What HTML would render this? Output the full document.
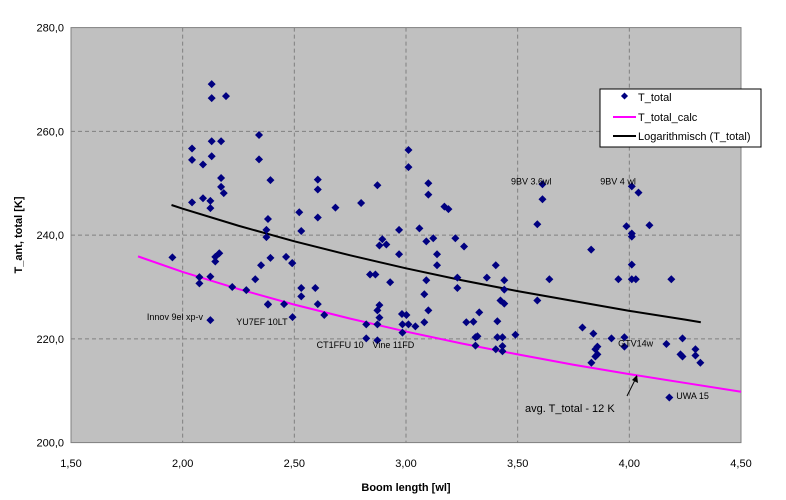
<!DOCTYPE html>
<html><head><meta charset="utf-8"><style>
body{margin:0;background:#fff;}
svg text{font-family:"Liberation Sans",Arial,sans-serif;}
</style></head><body>
<svg id="chart" width="786" height="495" xmlns="http://www.w3.org/2000/svg">
<rect x="0" y="0" width="786" height="495" fill="#fff"/>
<rect x="71" y="27.6" width="670" height="415" fill="#c0c0c0" stroke="#808080" stroke-width="1"/>
<g id="grid"></g><g id="axes"></g><g id="series"></g><g id="labels"></g>
<text transform="translate(22,235) rotate(-90)" text-anchor="middle" font-size="11" font-weight="bold">T_ant, total [K]</text>
<text x="406" y="491" text-anchor="middle" font-size="11" font-weight="bold">Boom length [wl]</text>
<g>
<rect x="600" y="89" width="161" height="58" fill="#fff" stroke="#000"/>
<rect x="622" y="93.5" width="5" height="5" transform="rotate(45 624.5 96)" fill="#000080"/>
<text x="638" y="101" font-size="11">T_total</text>
<line x1="613" y1="117" x2="636" y2="117" stroke="#ff00ff" stroke-width="2"/>
<text x="638" y="121" font-size="11">T_total_calc</text>
<line x1="613" y1="136" x2="636" y2="136" stroke="#000" stroke-width="2"/>
<text x="638" y="140" font-size="11">Logarithmisch (T_total)</text>
</g>
</svg>
<script>
const xTicks=["1,50","2,00","2,50","3,00","3,50","4,00","4,50"];
const xTickVals=[1.5,2,2.5,3,3.5,4,4.5];
const yTicks=["200,0","220,0","240,0","260,0","280,0"];
const yTickVals=[200,220,240,260,280];
const ptX=[2.130,2.130,2.194,2.042,2.042,2.091,2.130,2.172,2.130,2.342,2.342,2.393,2.172,2.172,2.184,2.042,2.091,2.124,2.124,2.382,2.375,2.375,2.522,2.531,1.954,2.164,2.146,2.146,2.393,2.463,2.490,2.351,2.075,2.075,2.124,2.325,2.222,2.285,2.382,2.382,2.454,2.531,2.531,2.492,2.124,
2.605,2.605,2.605,2.491,2.594,2.605,2.634,2.684,2.799,2.872,2.969,2.894,2.881,2.912,2.969,2.839,2.863,2.929,2.881,2.872,2.881,2.872,2.822,2.822,2.872,2.982,3.002,2.984,3.011,3.042,2.984,3.011,3.011,3.100,3.100,3.060,3.091,3.122,3.139,3.139,3.091,3.082,3.100,3.082,3.172,3.190,3.221,3.260,3.230,3.230,3.328,3.270,3.302,3.311,3.320,3.311,3.402,3.362,3.440,3.440,3.423,3.440,3.409,3.409,3.432,3.490,3.402,3.432,3.432,
3.611,3.611,3.588,3.642,3.588,4.011,4.041,3.987,4.090,4.011,4.011,3.829,4.011,3.951,4.011,4.029,4.188,3.790,3.839,3.920,3.978,3.978,3.857,3.848,3.857,3.848,3.830,4.166,4.238,4.229,4.238,4.296,4.296,4.318,4.179];
const ptY=[269.1,266.4,266.8,256.7,254.5,253.6,258.1,258.1,255.2,259.3,254.6,250.6,251.0,249.3,248.1,246.3,247.1,246.6,245.2,243.1,241.0,239.6,244.4,240.8,235.7,236.5,235.8,234.9,235.6,235.8,234.6,234.2,231.9,230.7,232.0,231.5,230.0,229.4,226.7,226.6,226.7,229.8,228.2,224.2,223.6,
250.7,248.8,243.4,234.6,229.8,226.7,224.6,245.3,246.2,249.6,241.0,239.2,238.0,238.2,236.3,232.4,232.4,230.9,226.5,225.5,224.1,222.8,222.8,220.1,219.7,224.8,224.6,222.8,222.8,222.4,221.2,256.4,253.1,250.0,247.8,241.3,238.8,239.4,236.3,234.2,231.3,228.6,225.5,223.2,245.5,245.0,239.4,237.8,231.8,229.8,225.1,223.2,223.3,220.3,220.5,218.7,234.2,231.8,231.3,229.5,227.4,226.8,223.4,220.3,220.3,220.8,218.0,218.6,217.6,
249.8,246.9,242.1,231.5,227.4,249.4,248.2,241.7,241.9,240.3,239.7,237.2,234.3,231.5,231.5,231.5,231.5,222.2,221.0,220.1,220.3,218.5,218.5,218.0,217.0,216.6,215.4,219.0,220.1,217.0,216.6,218.0,216.8,215.4,208.7];
const calcX=[1.8,2.0,2.25,2.5,2.75,3.0,3.25,3.5,3.75,4.0,4.25,4.5];
const calcY=[235.9,232.9,229.6,226.6,223.9,221.4,219.1,217.0,215.0,213.2,211.5,209.8];
const logX=[1.95,2.0,2.25,2.5,2.75,3.0,3.25,3.5,3.75,4.0,4.25,4.32];
const logY=[245.8,245.1,241.8,238.8,236.1,233.6,231.3,229.2,227.3,225.4,223.7,223.2];
const annText=["Innov 9el xp-v","YU7EF 10LT","CT1FFU 10","Vine 11FD","9BV 3.6wl","9BV 4 wl","GTV14w","UWA 15"];
const annX=[1.84,2.24,2.60,2.85,3.47,3.87,3.95,4.21];
const annY=[223.6,222.7,218.2,218.2,249.8,249.8,218.5,208.4];

const NS="http://www.w3.org/2000/svg";
const sx=v=>71+(v-1.5)*670/3;
const sy=v=>27.6+(280-v)*415/80;
function mk(t,a,p){const e=document.createElementNS(NS,t);for(const k in a)e.setAttribute(k,a[k]);document.getElementById(p).appendChild(e);return e;}
xTickVals.forEach((v,i)=>{
 if(i>0&&i<xTickVals.length-1){const g=mk('line',{x1:sx(v),x2:sx(v),y1:27.6,y2:442.6,stroke:'#808080','stroke-dasharray':'4,3'},'grid');
 
 }
 const t=mk('text',{x:sx(v),y:467,'text-anchor':'middle','font-size':'11'},'axes');t.textContent=xTicks[i];
 
 
});
yTickVals.forEach((v,i)=>{
 if(i>0&&i<yTickVals.length-1){const g=mk('line',{x1:71,x2:741,y1:sy(v),y2:sy(v),stroke:'#808080','stroke-dasharray':'4,3'},'grid');
 
 }
 const t=mk('text',{x:64,y:sy(v)+4,'text-anchor':'end','font-size':'11'},'axes');t.textContent=yTicks[i];
 
 
});
const cl=mk('polyline',{points:calcX.map((x,i)=>sx(x)+','+sy(calcY[i])).join(' '),fill:'none',stroke:'#ff00ff','stroke-width':2},'series');


const ll=mk('polyline',{points:logX.map((x,i)=>sx(x)+','+sy(logY[i])).join(' '),fill:'none',stroke:'#000','stroke-width':2},'series');


ptX.forEach((x,i)=>{const cx=sx(x),cy=sy(ptY[i]);
 const p=mk('polygon',{points:`${cx},${cy-4} ${cx+4},${cy} ${cx},${cy+4} ${cx-4},${cy}`,fill:'#000080'},'series');
 
 
});
annText.forEach((s,i)=>{const t=mk('text',{x:sx(annX[i]),y:sy(annY[i]),'font-size':'9'},'labels');t.textContent=s;
 
 
});
const at=mk('text',{x:525,y:412,'font-size':'11'},'labels');at.textContent='avg. T_total - 12 K';


const ar=mk('line',{x1:627,y1:396,x2:637,y2:376,stroke:'#000','stroke-width':1},'labels');


const ah=mk('polygon',{points:'637,375 638,383 632,380',fill:'#000'},'labels');


</script>
</body></html>
